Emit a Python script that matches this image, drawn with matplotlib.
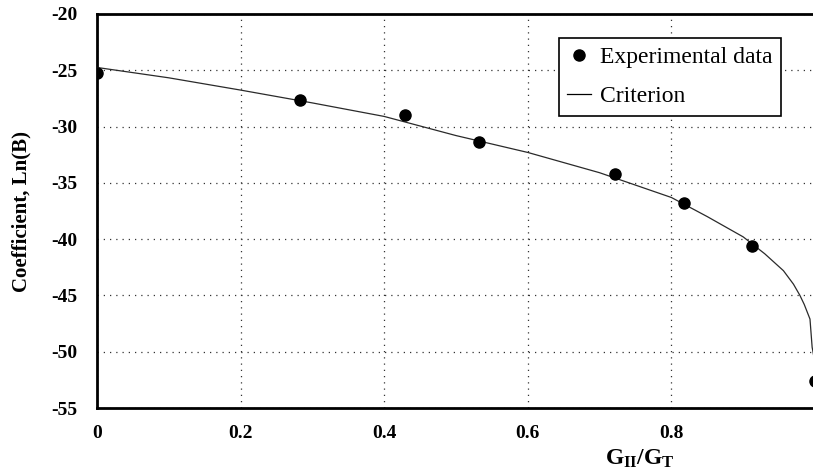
import matplotlib
matplotlib.use("Agg")
import matplotlib.pyplot as plt
from matplotlib.lines import Line2D

plt.rcParams["font.family"] = ["Liberation Serif", "DejaVu Serif"]
plt.rcParams["axes.unicode_minus"] = False
plt.rcParams["mathtext.fontset"] = "custom"
plt.rcParams["mathtext.rm"] = "Liberation Serif:bold"
plt.rcParams["mathtext.bf"] = "Liberation Serif:bold"
plt.rcParams["mathtext.it"] = "Liberation Serif:bold"

# Measured coefficients
exp_ratio = [0.0, 0.283, 0.429, 0.532, 0.722, 0.817, 0.912, 1.0]
exp_lnB = [-25.2, -27.6, -29.0, -31.35, -34.25, -36.8, -40.65, -52.6]

# Criterion curve
crit_ratio = [0.0, 0.1, 0.2, 0.3, 0.4, 0.5, 0.6, 0.7, 0.8, 0.85, 0.9,
              0.93, 0.956, 0.97, 0.979, 0.985, 0.993, 0.996, 0.998]
crit_lnB = [-24.75, -25.67, -26.76, -27.9, -29.1, -30.8, -32.3, -34.1, -36.3,
            -38.0, -39.8, -41.3, -42.8, -44.0, -45.0, -45.8, -47.1, -49.6, -50.3]

x_ticks = [0, 0.2, 0.4, 0.6, 0.8]
x_tick_labels = ["0", "0.2", "0.4", "0.6", "0.8"]
y_ticks = [-55, -50, -45, -40, -35, -30, -25, -20]

fig = plt.figure(figsize=(8.13, 4.74), dpi=100)
ax = fig.add_axes([0.1193, 0.1392, 0.8807, 0.8313])

ax.plot(crit_ratio, crit_lnB, color="#2a2a2a", lw=0.9, zorder=3)
ax.plot(exp_ratio, exp_lnB, "o", color="black", markersize=8, zorder=4)

ax.set_xlim(0, 0.9972)
ax.set_ylim(-55, -20)
ax.set_xticks(x_ticks)
ax.set_xticklabels(x_tick_labels)
ax.set_yticks(y_ticks)
ax.tick_params(axis="y", length=0, pad=14, labelsize=14)
ax.tick_params(axis="x", length=0, pad=12, labelsize=14)
for lab in ax.get_xticklabels() + ax.get_yticklabels():
    lab.set_fontweight("bold")

ax.grid(True, color="#333333", lw=0.9, linestyle=(0, (1, 4)))
ax.set_axisbelow(True)

for side in ("left", "top", "bottom"):
    ax.spines[side].set_linewidth(2.0)
    ax.spines[side].set_color("black")
ax.spines["right"].set_visible(False)

ax.set_ylabel("Coefficient, Ln(B)", fontsize=15, fontweight="bold", labelpad=14)
fig.text(0.787, 0.032, r"$G_{II}/G_{T}$", fontsize=17, ha="center", va="center")

handles = [
    Line2D([], [], marker="o", color="black", linestyle="none", markersize=8),
    Line2D([], [], color="black", lw=0.9),
]
leg = ax.legend(handles, ["Experimental data", "Criterion"],
                loc="upper left", bbox_to_anchor=(0.645, 0.938),
                borderaxespad=0, fontsize=17, frameon=True, fancybox=False,
                edgecolor="black", framealpha=1, borderpad=0.35,
                handlelength=1.0, handletextpad=0.4, labelspacing=0.75)
leg.get_frame().set_linewidth(1.2)

fig.savefig("out.png", dpi=100)
